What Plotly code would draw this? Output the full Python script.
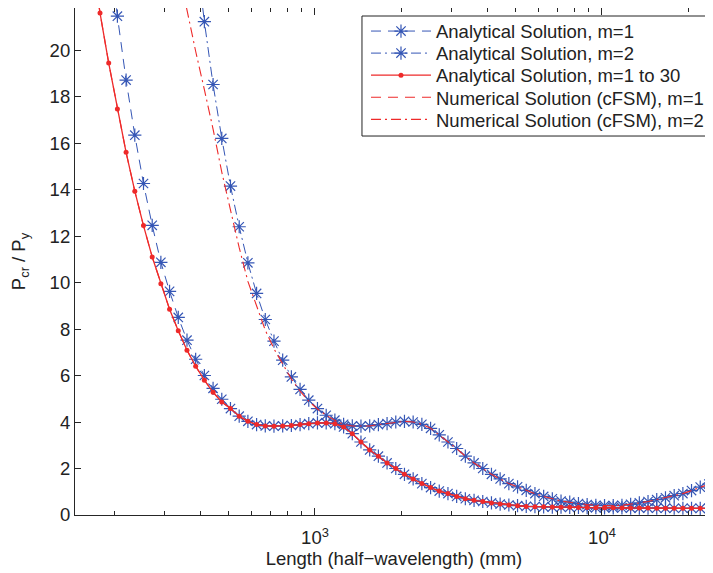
import plotly.graph_objects as go

# half-wavelength lengths (mm), log-spaced sampling
lengths = [166.2, 178.2, 191.1, 204.9, 219.7, 235.6, 252.6, 270.9, 290.4, 311.4,
           333.9, 358.1, 383.9, 411.7, 441.5, 473.4, 507.6, 544.4, 583.7, 625.9,
           671.1, 719.6, 771.7, 827.4, 887.2, 951.3, 1020, 1094, 1173, 1258,
           1349, 1446, 1551, 1663, 1783, 1912, 2050, 2198, 2357, 2528,
           2710, 2906, 3116, 3341, 3583, 3842, 4120, 4417, 4737, 5079,
           5446, 5840, 6262, 6714, 7199, 7720, 8279, 8877, 9519, 10207,
           10945, 11736, 12584, 13494, 14469, 15514, 16644, 17847, 19137, 20512,
           21995, 23585, 25290]

analytical_m1 = [None, None, 24.7, 21.46, 18.71, 16.34, 14.26, 12.46, 10.87, 9.62,
                 8.50, 7.52, 6.70, 6.00, 5.45, 4.98, 4.58, 4.25, 4.03, 3.89,
                 3.83, 3.82, 3.83, 3.85, 3.89, 3.93, 3.96, 3.96, 3.93, 3.79,
                 3.50, 3.14, 2.80, 2.53, 2.24, 2.00, 1.75, 1.55, 1.35, 1.18,
                 1.03, 0.92, 0.80, 0.70, 0.63, 0.58, 0.52, 0.47, 0.43, 0.40,
                 0.37, 0.36, 0.35, 0.34, 0.335, 0.33, 0.325, 0.32, 0.315, 0.31,
                 0.31, 0.305, 0.30, 0.30, 0.30, 0.295, 0.295, 0.29, 0.29, 0.29,
                 0.285, 0.285, 0.285]

analytical_m2 = [None, None, None, None, None, None, None, None, None, None,
                 None, None, 24.4, 21.22, 18.52, 16.2, 14.15, 12.4, 10.85, 9.53,
                 8.41, 7.48, 6.66, 5.94, 5.40, 4.94, 4.58, 4.29, 4.08, 3.90,
                 3.83, 3.82, 3.83, 3.89, 3.93, 4.00, 4.03, 4.00, 3.90, 3.73,
                 3.45, 3.14, 2.86, 2.53, 2.24, 2.00, 1.75, 1.55, 1.35, 1.21,
                 1.06, 0.92, 0.80, 0.70, 0.60, 0.55, 0.49, 0.45, 0.42, 0.40,
                 0.40, 0.42, 0.46, 0.52, 0.58, 0.66, 0.74, 0.83, 0.92, 1.05,
                 1.20, 1.33, 1.47]

analytical_m1_30 = [24.2, 21.6, 19.44, 17.46, 15.6, 13.93, 12.45, 11.1, 9.95, 8.85,
                    7.93, 7.09, 6.4, 5.8, 5.28, 4.86, 4.58, 4.25, 4.03, 3.89,
                    3.83, 3.82, 3.83, 3.85, 3.89, 3.93, 3.96, 3.96, 3.93, 3.79,
                    3.50, 3.14, 2.80, 2.53, 2.24, 2.00, 1.75, 1.55, 1.35, 1.18,
                    1.03, 0.92, 0.80, 0.70, 0.63, 0.58, 0.52, 0.47, 0.43, 0.40,
                    0.37, 0.36, 0.35, 0.34, 0.335, 0.33, 0.325, 0.32, 0.315, 0.31,
                    0.31, 0.305, 0.30, 0.30, 0.30, 0.295, 0.295, 0.29, 0.29, 0.29,
                    0.285, 0.285, 0.285]

numerical_m1 = [24.2, 21.6, 19.44, 17.46, 15.6, 13.93, 12.45, 11.1, 9.95, 8.85,
                7.93, 7.09, 6.4, 5.8, 5.28, 4.86, 4.58, 4.25, 4.03, 3.89,
                3.83, 3.82, 3.83, 3.85, 3.89, 3.93, 3.96, 3.96, 3.93, 3.79,
                3.50, 3.14, 2.80, 2.53, 2.24, 2.00, 1.75, 1.55, 1.35, 1.18,
                1.03, 0.92, 0.80, 0.70, 0.63, 0.58, 0.52, 0.47, 0.43, 0.40,
                0.37, 0.36, 0.35, 0.34, 0.335, 0.33, 0.325, 0.32, 0.315, 0.31,
                0.31, 0.305, 0.30, 0.30, 0.30, 0.295, 0.295, 0.29, 0.29, 0.29,
                0.285, 0.285, 0.285]

numerical_m2 = [None, None, None, None, None, None, None, None, None, None,
                23.5, 21.65, 19.95, 18.3, 16.6, 14.75, 13.1, 11.5, 10.05, 8.95,
                7.95, 7.15, 6.5, 5.85, 5.33, 4.9, 4.56, 4.29, 4.08, 3.90,
                3.83, 3.82, 3.83, 3.89, 3.93, 4.00, 4.03, 4.00, 3.90, 3.73,
                3.45, 3.14, 2.86, 2.53, 2.24, 2.00, 1.75, 1.55, 1.35, 1.21,
                1.06, 0.92, 0.80, 0.70, 0.60, 0.55, 0.49, 0.45, 0.42, 0.40,
                0.40, 0.42, 0.46, 0.52, 0.58, 0.66, 0.74, 0.83, 0.92, 1.05,
                1.20, 1.33, 1.47]

series_names = ["Analytical Solution, m=1",
                "Analytical Solution, m=2",
                "Analytical Solution, m=1 to 30",
                "Numerical Solution (cFSM), m=1",
                "Numerical Solution (cFSM), m=2"]

x_major = [1000, 10000]
x_major_text = ["10<sup>3</sup>", "10<sup>4</sup>"]
x_minor = [200, 300, 400, 500, 600, 700, 800, 900,
           2000, 3000, 4000, 5000, 6000, 7000, 8000, 9000, 20000]
y_ticks = [0, 2, 4, 6, 8, 10, 12, 14, 16, 18, 20]

BLUE = "#3556B5"
RED = "#EE2A2A"
INK = "#222222"
FONT = "Liberation Sans, Arial, Helvetica, sans-serif"
FS = 18.5

legend_ids = ["legend", "legend2", "legend3", "legend4", "legend5"]

fig = go.Figure()
fig.add_trace(go.Scatter(
    x=lengths, y=analytical_m1, mode="lines+markers",
    name=series_names[0], legend=legend_ids[0],
    line=dict(color=BLUE, width=1, dash="10px,7px"),
    marker=dict(symbol="asterisk-open", size=11, color=BLUE, line=dict(color=BLUE, width=1.2)),
))
fig.add_trace(go.Scatter(
    x=lengths, y=analytical_m2, mode="lines+markers",
    name=series_names[1], legend=legend_ids[1],
    line=dict(color=BLUE, width=1, dash="10px,4px,2px,4px"),
    marker=dict(symbol="asterisk-open", size=11, color=BLUE, line=dict(color=BLUE, width=1.2)),
))
fig.add_trace(go.Scatter(
    x=lengths, y=analytical_m1_30, mode="lines+markers",
    name=series_names[2], legend=legend_ids[2],
    line=dict(color=RED, width=1.3),
    marker=dict(symbol="circle", size=5, color=RED),
))
fig.add_trace(go.Scatter(
    x=lengths, y=numerical_m1, mode="lines",
    name=series_names[3], legend=legend_ids[3],
    line=dict(color=RED, width=1.1, dash="10px,7px"),
))
fig.add_trace(go.Scatter(
    x=lengths, y=numerical_m2, mode="lines",
    name=series_names[4], legend=legend_ids[4],
    line=dict(color=RED, width=1.1, dash="10px,4px,2px,4px"),
))

# legend entries: one per row, inside a single framed box
entry_y = [0.9536, 0.9101, 0.8665, 0.8229, 0.7793]
legend_layout = {}
for lid, yy in zip(legend_ids, entry_y):
    legend_layout[lid] = dict(
        x=0.4561, y=yy, xanchor="left", yanchor="middle",
        bgcolor="rgba(0,0,0,0)", borderwidth=0, itemwidth=60,
        font=dict(family=FONT, size=FS, color=INK),
    )

fig.add_shape(type="rect", xref="paper", yref="paper",
              x0=0.4498, x1=0.9953, y0=0.7475, y1=0.9842,
              line=dict(color=INK, width=1), fillcolor="white", layer="above")

fig.update_layout(
    width=705, height=565,
    margin=dict(l=67, r=0, t=0, b=58, autoexpand=False),
    paper_bgcolor="white", plot_bgcolor="white",
    font=dict(family=FONT, size=FS, color=INK),
    showlegend=True,
    **legend_layout,
    xaxis=dict(
        type="log", range=[2.1638, 4.3868],
        tickvals=x_major, ticktext=x_major_text,
        ticks="inside", ticklen=7, tickcolor="#262626",
        ticklabelstandoff=6,
        minor=dict(tickvals=x_minor, ticks="inside", ticklen=4, tickcolor="#262626"),
        showline=True, linecolor="#262626", linewidth=1.2, mirror="ticks",
        showgrid=False, zeroline=False,
        title=dict(text="Length (half\u2212wavelength) (mm)", standoff=2,
                   font=dict(family=FONT, size=FS, color=INK)),
        tickfont=dict(family=FONT, size=FS, color=INK),
    ),
    yaxis=dict(
        range=[0, 21.81], tickvals=y_ticks,
        ticks="inside", ticklen=6, tickcolor="#262626",
        showline=True, linecolor="#262626", linewidth=1.2, mirror="ticks",
        showgrid=False, zeroline=False,
        title=dict(text="P<sub>cr</sub> / P<sub>y</sub>", standoff=25,
                   font=dict(family=FONT, size=FS, color=INK)),
        tickfont=dict(family=FONT, size=FS, color=INK),
    ),
)

fig.write_html("out.html")
